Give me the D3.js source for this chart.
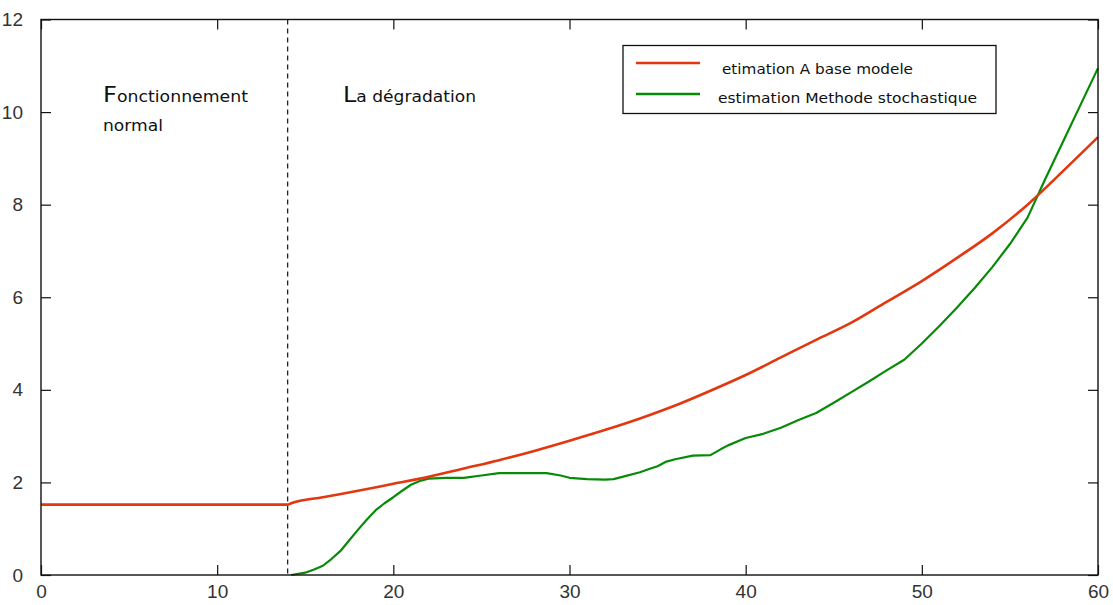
<!DOCTYPE html>
<html>
<head>
<meta charset="utf-8">
<script src="https://cdn.jsdelivr.net/npm/d3@7"></script>
<style>
  html, body { margin: 0; padding: 0; background: #fff; }
  svg { display: block; }
  text { font-family: "DejaVu Sans", "Liberation Sans", sans-serif; }
</style>
</head>
<body>
<svg id="chart" width="1113" height="605"></svg>
<script>
// Model-based estimate (red): flat during normal operation, then growth after t = 14
const modelTime  = [0, 14, 14.2, 16, 18, 20, 22, 24, 26, 28, 30, 32, 34, 36, 38, 40, 42, 44, 46, 48, 50, 52, 54, 56, 58, 60];
const modelValue = [1.52, 1.52, 1.55, 1.68, 1.82, 1.97, 2.12, 2.3, 2.48, 2.68, 2.9, 3.13, 3.38, 3.66, 3.98, 4.32, 4.7, 5.08, 5.45, 5.9, 6.35, 6.85, 7.38, 8.0, 8.72, 9.46];

// Stochastic-method estimate (green)
const stochTime  = [14.2, 15, 15.5, 16, 16.5, 17, 17.5, 18, 18.5, 19, 19.5, 20, 20.5, 21, 21.5, 22, 23, 24, 25, 26, 27, 28, 28.7, 29.5, 30, 31, 32, 32.5, 33, 34, 34.6, 35, 35.5, 36, 37, 38, 38.6, 39, 40, 41, 42, 43, 44, 45, 46, 47, 48, 49, 50, 51, 52, 53, 54, 55, 56, 57, 58, 59, 60];
const stochValue = [0.0, 0.05, 0.12, 0.2, 0.35, 0.52, 0.75, 0.98, 1.2, 1.4, 1.55, 1.68, 1.82, 1.95, 2.03, 2.08, 2.1, 2.1, 2.15, 2.2, 2.2, 2.2, 2.2, 2.15, 2.1, 2.07, 2.06, 2.07, 2.12, 2.22, 2.3, 2.35, 2.45, 2.5, 2.58, 2.59, 2.72, 2.8, 2.96, 3.05, 3.18, 3.35, 3.5, 3.72, 3.95, 4.18, 4.42, 4.65, 5.0, 5.38, 5.78, 6.2, 6.65, 7.15, 7.72, 8.55, 9.35, 10.15, 10.95];

const xTicks = [0, 10, 20, 30, 40, 50, 60];
const yTicks = [0, 2, 4, 6, 8, 10, 12];
const transitionTime = 14;

const seriesNames = ["etimation A base modele", "estimation Methode stochastique"];
const seriesColors = ["#e2370f", "#078a07"];

const svg = d3.select("#chart");
const plot = { left: 41, right: 1098, top: 19.5, bottom: 575 };

const x = d3.scaleLinear().domain([0, 60]).range([plot.left, plot.right]);
const y = d3.scaleLinear().domain([0, 12]).range([plot.bottom, plot.top]);

// Series lines
const stochLine = d3.line().x(d => x(d[0])).y(d => y(d[1]));
const modelLine = d3.line().x(d => x(d[0])).y(d => y(d[1])).curve(d3.curveMonotoneX);
const modelPts = modelTime.map((t, i) => [t, modelValue[i]]);
const stochPts = stochTime.map((t, i) => [t, stochValue[i]]);

// Transition marker (dashed)
svg.append("line")
  .attr("x1", x(transitionTime)).attr("x2", x(transitionTime))
  .attr("y1", plot.top).attr("y2", plot.bottom)
  .attr("stroke", "#222").attr("stroke-width", 1.3)
  .attr("stroke-dasharray", "5,4");

svg.append("path").datum(stochPts)
  .attr("d", stochLine).attr("fill", "none")
  .attr("stroke", seriesColors[1]).attr("stroke-width", 2.2)
  .attr("stroke-linejoin", "round");

svg.append("path").datum(modelPts)
  .attr("d", modelLine).attr("fill", "none")
  .attr("stroke", seriesColors[0]).attr("stroke-width", 2.6)
  .attr("stroke-linejoin", "round");

// Axes with inward ticks on all four sides
const tickLen = 10;
const axisStyle = g => {
  g.select(".domain").remove();
  g.selectAll(".tick line").attr("stroke", "#111").attr("stroke-width", 1.2);
  g.selectAll(".tick text").attr("fill", "#333").style("font-size", "19px")
    .style("font-family", "'Liberation Sans', 'DejaVu Sans', sans-serif");
};

svg.append("g").attr("transform", `translate(0,${plot.bottom})`)
  .call(d3.axisBottom(x).tickValues(xTicks).tickSizeInner(-tickLen).tickSizeOuter(0).tickPadding(10))
  .call(axisStyle);
svg.append("g").attr("transform", `translate(0,${plot.top})`)
  .call(d3.axisTop(x).tickValues(xTicks).tickSizeInner(-tickLen).tickSizeOuter(0).tickFormat(""))
  .call(axisStyle);
svg.append("g").attr("transform", `translate(${plot.left},0)`)
  .call(d3.axisLeft(y).tickValues(yTicks).tickSizeInner(-tickLen).tickSizeOuter(0).tickPadding(18))
  .call(axisStyle);
svg.append("g").attr("transform", `translate(${plot.right},0)`)
  .call(d3.axisRight(y).tickValues(yTicks).tickSizeInner(-tickLen).tickSizeOuter(0).tickFormat(""))
  .call(axisStyle);

// Frame
svg.append("rect")
  .attr("x", plot.left).attr("y", plot.top)
  .attr("width", plot.right - plot.left).attr("height", plot.bottom - plot.top)
  .attr("fill", "none").attr("stroke", "#111").attr("stroke-width", 1.4);

// Phase labels
const phase = svg.append("g").attr("fill", "#111");
const t1 = phase.append("text").attr("x", 103).attr("y", 102)
  .attr("textLength", 145).attr("lengthAdjust", "spacingAndGlyphs");
t1.append("tspan").style("font-size", "21px").text("F");
t1.append("tspan").style("font-size", "15px").text("onctionnement");
phase.append("text").attr("x", 103).attr("y", 131)
  .attr("textLength", 60).attr("lengthAdjust", "spacingAndGlyphs")
  .style("font-size", "15px").text("normal");
const t2 = phase.append("text").attr("x", 343).attr("y", 102)
  .attr("textLength", 133).attr("lengthAdjust", "spacingAndGlyphs");
t2.append("tspan").style("font-size", "21px").text("L");
t2.append("tspan").style("font-size", "15px").text("a dégradation");

// Legend
const legend = svg.append("g");
legend.append("rect")
  .attr("x", 623).attr("y", 45.5).attr("width", 373).attr("height", 68)
  .attr("fill", "#fff").attr("stroke", "#111").attr("stroke-width", 1.3);
const legendRows = [
  { y: 63, textX: 722, textLen: 191, textY: 74 },
  { y: 94, textX: 718, textLen: 259, textY: 103 }
];
legendRows.forEach((r, i) => {
  legend.append("line")
    .attr("x1", 636).attr("x2", 700).attr("y1", r.y).attr("y2", r.y)
    .attr("stroke", seriesColors[i]).attr("stroke-width", 2.4);
  legend.append("text")
    .attr("x", r.textX).attr("y", r.textY)
    .attr("textLength", r.textLen).attr("lengthAdjust", "spacingAndGlyphs")
    .style("font-size", "14px").attr("fill", "#111")
    .text(seriesNames[i]);
});
</script>
</body>
</html>
